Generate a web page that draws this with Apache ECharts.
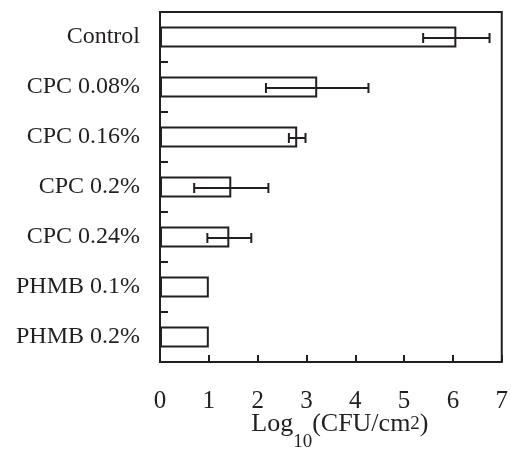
<!DOCTYPE html>
<html>
<head>
<meta charset="utf-8">
<script src="https://cdn.jsdelivr.net/npm/echarts@6/dist/echarts.min.js"></script>
<style>
html,body{margin:0;padding:0;background:#fff;}
#chart{width:511px;height:457px;}
</style>
</head>
<body>
<div id="chart"></div>
<script>
const categories = ['Control', 'CPC 0.08%', 'CPC 0.16%', 'CPC 0.2%', 'CPC 0.24%', 'PHMB 0.1%', 'PHMB 0.2%'];
const means = [6.07, 3.22, 2.81, 1.46, 1.42, 1.00, 1.00];
const errors = [0.68, 1.05, 0.17, 0.76, 0.45, 0, 0];
const xTicks = [0, 1, 2, 3, 4, 5, 6, 7];

const errData = categories.map((c, i) => [i, means[i] - errors[i], means[i] + errors[i]]).filter(d => d[2] > d[1]);

const chart = echarts.init(document.getElementById('chart'), null, {renderer: 'canvas'});
const serif = '"Liberation Serif", "Times New Roman", serif';
const ink = '#231f20';

chart.setOption({
  animation: false,
  backgroundColor: '#fff',
  grid: {left: 160, right: 6, top: 12, bottom: 90, show: true, borderColor: ink, borderWidth: 2, backgroundColor: 'transparent'},
  xAxis: {
    type: 'value', min: xTicks[0], max: xTicks[xTicks.length - 1], interval: 1,
    axisLine: {show: true, lineStyle: {color: ink, width: 2}},
    axisTick: {show: true, inside: true, length: 7, lineStyle: {color: ink, width: 2}},
    splitLine: {show: false},
    axisLabel: {color: ink, fontFamily: serif, fontSize: 25, margin: 27},
    name: '{a|Log}{s|10}{a|(CFU/cm}{p|2}{a|)}',
    nameLocation: 'middle', nameGap: 34, nameMoveOverlap: false,
    nameTextStyle: {
      fontFamily: serif, color: ink, padding: [0, 0, 0, 18],
      rich: {
        a: {fontFamily: serif, fontSize: 26, color: ink, lineHeight: 56},
        s: {fontFamily: serif, fontSize: 19, color: ink, verticalAlign: 'bottom'},
        p: {fontFamily: serif, fontSize: 19, color: ink, verticalAlign: 'middle'}
      }
    }
  },
  yAxis: {
    type: 'category', data: categories, inverse: true,
    axisLine: {show: true, lineStyle: {color: ink, width: 2}},
    axisTick: {show: true, inside: true, length: 8, alignWithLabel: false, lineStyle: {color: ink, width: 2}},
    axisLabel: {color: ink, fontFamily: serif, fontSize: 24, margin: 20},
    splitLine: {show: false}
  },
  series: [
    {
      type: 'bar', data: means, barWidth: 21,
      itemStyle: {color: '#fff', borderColor: ink, borderWidth: 2},
      z: 2
    },
    {
      type: 'custom', data: errData, z: 3,
      renderItem: function (params, api) {
        const idx = api.value(0);
        const lo = api.coord([api.value(1), idx]);
        const hi = api.coord([api.value(2), idx]);
        const y = lo[1] + 1;
        const h = 5;
        const st = {stroke: ink, lineWidth: 2};
        return {
          type: 'group',
          children: [
            {type: 'line', shape: {x1: lo[0], y1: y, x2: hi[0], y2: y}, style: st},
            {type: 'line', shape: {x1: lo[0], y1: y - h, x2: lo[0], y2: y + h}, style: st},
            {type: 'line', shape: {x1: hi[0], y1: y - h, x2: hi[0], y2: y + h}, style: st}
          ]
        };
      }
    }
  ]
});
</script>
</body>
</html>
